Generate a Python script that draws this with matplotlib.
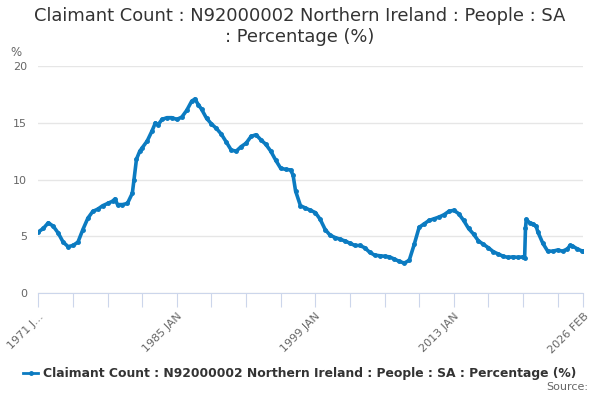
import numpy as np
import matplotlib
matplotlib.use("Agg")
import matplotlib.pyplot as plt
import pandas as pd

# Claimant count, Northern Ireland, %
months = [
    "1971-01", "1971-07", "1972-01", "1972-07", "1973-01", "1973-07", "1974-01", "1974-07",
    "1975-01", "1975-07", "1976-01", "1976-07", "1977-01", "1977-07", "1978-01", "1978-07",
    "1978-10", "1979-01", "1979-07", "1980-01", "1980-07", "1980-09", "1980-12", "1981-04",
    "1981-07", "1982-01", "1982-07", "1982-11", "1983-02", "1983-07", "1984-01", "1984-07",
    "1985-01", "1985-07", "1986-01", "1986-07", "1986-11", "1987-03", "1987-07", "1988-01",
    "1988-07", "1989-01", "1989-07", "1990-01", "1990-07", "1991-01", "1991-07", "1992-01",
    "1992-07", "1993-01", "1993-07", "1994-01", "1994-07", "1995-01", "1995-07", "1996-01",
    "1996-07", "1996-10", "1997-01", "1997-07", "1998-01", "1998-07", "1999-01", "1999-07",
    "2000-01", "2000-07", "2001-01", "2001-07", "2002-01", "2002-07", "2003-01", "2003-07",
    "2004-01", "2004-07", "2005-01", "2005-07", "2006-01", "2006-07", "2007-01", "2007-07",
    "2008-01", "2008-07", "2009-01", "2009-07", "2010-01", "2010-07", "2011-01", "2011-07",
    "2012-01", "2012-07", "2013-01", "2013-07", "2014-01", "2014-07", "2015-01", "2015-07",
    "2016-01", "2016-07", "2017-01", "2017-07", "2018-01", "2018-07", "2019-01", "2019-07",
    "2020-01", "2020-03", "2020-04", "2020-05", "2020-09", "2021-01", "2021-05", "2021-07",
    "2022-01", "2022-07", "2023-01", "2023-07", "2024-01", "2024-07", "2024-10", "2025-01",
    "2025-07", "2026-01", "2026-02",
]
values = [
    5.4, 5.7, 6.2, 5.9, 5.3, 4.5, 4.1, 4.2,
    4.5, 5.6, 6.6, 7.2, 7.4, 7.7, 7.9, 8.1,
    8.3, 7.8, 7.8, 7.9, 8.8, 10.0, 11.8, 12.5,
    12.8, 13.4, 14.3, 15.0, 14.8, 15.3, 15.45, 15.45,
    15.3, 15.5, 16.1, 16.9, 17.1, 16.6, 16.2, 15.4,
    14.9, 14.5, 14.0, 13.3, 12.6, 12.5, 12.9, 13.2,
    13.8, 13.95, 13.5, 13.1, 12.5, 11.7, 11.0, 10.9,
    10.85, 10.4, 9.0, 7.7, 7.5, 7.3, 7.1, 6.5,
    5.6, 5.1, 4.9, 4.75, 4.6, 4.4, 4.2, 4.2,
    4.0, 3.6, 3.35, 3.3, 3.25, 3.2, 3.0, 2.8,
    2.65, 2.9, 4.3, 5.8, 6.1, 6.4, 6.55, 6.7,
    6.9, 7.2, 7.3, 7.0, 6.4, 5.7, 5.2, 4.6,
    4.3, 4.0, 3.65, 3.45, 3.25, 3.15, 3.2, 3.15,
    3.2, 3.1, 5.7, 6.5, 6.2, 6.1, 5.9, 5.4,
    4.4, 3.7, 3.7, 3.8, 3.7, 3.9, 4.2, 4.15,
    3.9, 3.7, 3.7,
]
series_name = "Claimant Count : N92000002 Northern Ireland : People : SA : Percentage (%)"
title = "Claimant Count : N92000002 Northern Ireland : People : SA\n: Percentage (%)"
label_ticks = {"1971-01": "1971 J...", "1985-01": "1985 JAN", "1999-01": "1999 JAN",
               "2013-01": "2013 JAN", "2026-02": "2026 FEB"}

dates = pd.to_datetime(months)
blue = "#0b7bc1"
grey = "#666666"

fig = plt.figure(figsize=(6, 4), dpi=100)
ax = fig.add_axes([0.064, 0.267, 0.908, 0.568])

ax.plot(dates, values, color=blue, lw=2.6, marker="o", ms=2.5, zorder=3)

ax.set_ylim(0, 20)
ax.set_yticks([0, 5, 10, 15, 20])
ax.set_xlim(dates[0], dates[-1])

# ticks every 42 months plus the end point
tick_dates = list(pd.date_range("1971-01-01", "2025-12-01", freq="42MS")) + [dates[-1]]
ax.set_xticks(tick_dates)
ax.set_xticklabels([label_ticks.get(d.strftime("%Y-%m"), "") for d in tick_dates],
                   rotation=45, ha="right", rotation_mode="anchor", color=grey, fontsize=8)

ax.grid(axis="y", color="#e6e6e6", lw=1)
ax.set_axisbelow(True)
for s in ["top", "right", "left"]:
    ax.spines[s].set_visible(False)
ax.spines["bottom"].set_color("#ccd6eb")
ax.tick_params(axis="x", length=10, color="#ccd6eb", pad=3)
ax.tick_params(axis="y", length=0, labelcolor=grey, labelsize=8, pad=8)

fig.text(0.5, 0.982, title, ha="center", va="top", fontsize=12.9, color="#333333",
         linespacing=1.2)
fig.text(0.017, 0.86, "%", fontsize=8.5, color=grey)

handle = plt.Line2D([], [], color=blue, lw=2, marker="o", ms=2.5)
fig.legend([handle], [series_name], loc="center", bbox_to_anchor=(0.5, 0.065),
           frameon=False, handlelength=1.2, handletextpad=0.4,
           prop={"weight": "bold", "size": 8.9})
for t in fig.legends[0].get_texts():
    t.set_color("#333333")
fig.text(0.98, 0.025, "Source:", ha="right", fontsize=8, color=grey)

fig.savefig("out.png", dpi=100)
